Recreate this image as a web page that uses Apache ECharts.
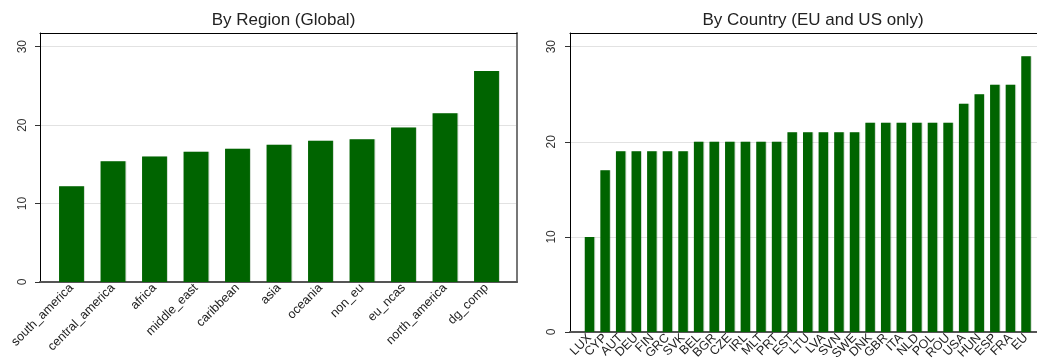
<!DOCTYPE html>
<html>
<head>
<meta charset="utf-8">
<script src="https://cdn.jsdelivr.net/npm/echarts@6/dist/echarts.min.js"></script>
<style>
  html, body { margin: 0; padding: 0; background: #fff; }
  #chart { width: 1037px; height: 358px; }
</style>
</head>
<body>
<div id="chart"></div>
<script>
// Left panel: regions
const regionNames = ['south_america', 'central_america', 'africa', 'middle_east', 'caribbean',
  'asia', 'oceania', 'non_eu', 'eu_ncas', 'north_america', 'dg_comp'];
const regionValues = [12.2, 15.4, 16.0, 16.6, 17.0, 17.5, 18.0, 18.2, 19.7, 21.5, 26.9];

// Right panel: countries
const countryNames = ['LUX', 'CYP', 'AUT', 'DEU', 'FIN', 'GRC', 'SVK', 'BEL', 'BGR', 'CZE',
  'IRL', 'MLT', 'PRT', 'EST', 'LTU', 'LVA', 'SVN', 'SWE', 'DNK', 'GBR', 'ITA', 'NLD', 'POL',
  'ROU', 'USA', 'HUN', 'ESP', 'FRA', 'EU'];
const countryValues = [10, 17, 19, 19, 19, 19, 19, 20, 20, 20, 20, 20, 20, 21, 21, 21, 21, 21,
  22, 22, 22, 22, 22, 22, 24, 25, 26, 26, 29];

const yTicks = { min: 0, max: 30, interval: 10 };

const FONT = '"Liberation Sans", Arial, Helvetica, sans-serif';
const BAR_COLOR = '#006400';

// Each panel uses three stacked grids:
//   frame  - the box outline,
//   scale  - y labels, ticks and gridlines across the whole box,
//   bars   - the category axis, inset inside the box.
function panelGrids(p) {
  return [
    { left: p.left, top: p.frameTop, width: p.width, height: p.bottom - p.frameTop, outerBoundsMode: 'none' },
    { left: p.left, top: p.top, width: p.width, height: p.bottom - p.top, outerBoundsMode: 'none' },
    { left: p.barLeft, top: p.top, width: p.barWidth, height: p.bottom - p.top, outerBoundsMode: 'none' }
  ];
}

const panels = [
  { left: 40, width: 477, frameTop: 33, top: 46.7, bottom: 282, barLeft: 50.75, barWidth: 456.5,
    names: regionNames, values: regionValues, barW: '60%', title: 'By Region (Global)', labelMargin: 11 },
  { left: 570, width: 476, frameTop: 33, top: 46.7, bottom: 332, barLeft: 581.7, barWidth: 452.1,
    names: countryNames, values: countryValues, barW: '61%', title: 'By Country (EU and US only)', labelMargin: 12 }
];

const grid = [], xAxis = [], yAxis = [], series = [], title = [];
const hidden = { show: false };

function frameLine(gridIndex, position, color, width) {
  return { gridIndex, type: 'value', min: 0, max: 1, position,
    axisLine: { show: true, onZero: false, lineStyle: { color, width } },
    axisTick: hidden, axisLabel: hidden, splitLine: hidden };
}

panels.forEach((p) => {
  const base = grid.length;
  grid.push(...panelGrids(p));

  // frame outline
  xAxis.push(frameLine(base, 'bottom', '#555', 2));
  xAxis.push(frameLine(base, 'top', '#000', 1));
  yAxis.push(frameLine(base, 'left', '#000', 1));
  yAxis.push(frameLine(base, 'right', '#777', 2));

  // value scale
  xAxis.push({ gridIndex: base + 1, type: 'value', show: false });
  yAxis.push({ gridIndex: base + 1, type: 'value', min: yTicks.min, max: yTicks.max, interval: yTicks.interval,
    axisLine: { show: false, onZero: false },
    axisTick: { show: true, length: 5, lineStyle: { color: '#333', width: 1 } },
    axisLabel: { rotate: 90, margin: p.labelMargin, fontFamily: FONT, fontSize: 12, color: '#333' },
    splitLine: { show: true, lineStyle: { color: '#e2e2e2', width: 1 } } });

  // bars
  const xi = xAxis.length;
  const yi = yAxis.length;
  xAxis.push({ gridIndex: base + 2, type: 'category', data: p.names,
    axisLine: { show: false, onZero: false }, axisTick: hidden,
    axisLabel: { interval: 0, rotate: 45, margin: 4, fontFamily: FONT, fontSize: 12.5, color: '#222' } });
  yAxis.push({ gridIndex: base + 2, type: 'value', min: yTicks.min, max: yTicks.max, show: false });

  series.push({ type: 'bar', xAxisIndex: xi, yAxisIndex: yi, data: p.values, barWidth: p.barW,
    itemStyle: { color: BAR_COLOR, shadowColor: 'rgba(0,60,0,0.18)', shadowOffsetX: 1, shadowBlur: 0 },
    silent: true, animation: false });

  title.push({ text: p.title, left: p.left + p.width / 2, top: 7, textAlign: 'center',
    textStyle: { fontFamily: FONT, fontSize: 17, fontWeight: 'normal', color: '#222' } });
});

const chart = echarts.init(document.getElementById('chart'), null, { renderer: 'canvas' });
chart.setOption({
  animation: false,
  backgroundColor: '#fff',
  title, grid, xAxis, yAxis, series
});
</script>
</body>
</html>
